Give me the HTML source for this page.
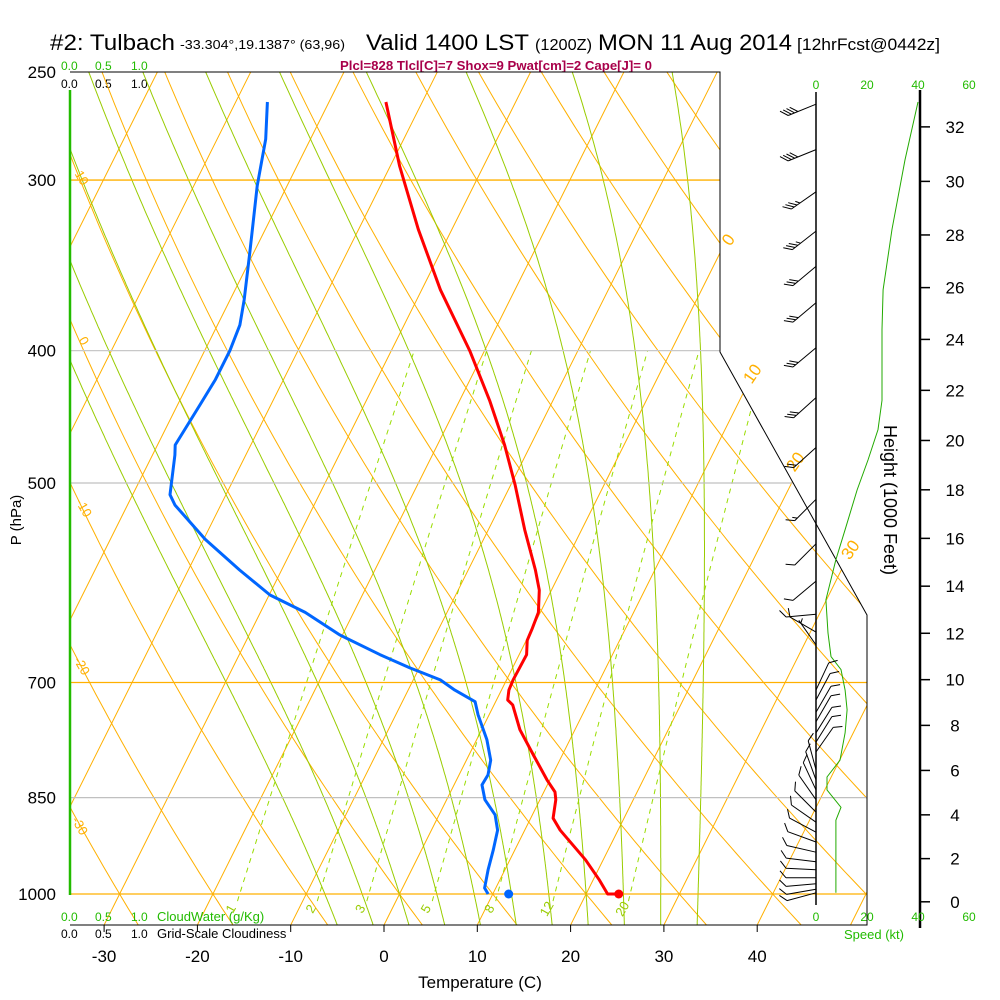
<!DOCTYPE html>
<html><head><meta charset="utf-8"><style>
html,body{margin:0;padding:0;background:#fff;}
svg{display:block;font-family:"Liberation Sans",Arial,sans-serif;}
</style></head><body>
<svg id="chart" width="1000" height="1000" viewBox="0 0 1000 1000" xmlns="http://www.w3.org/2000/svg">
<defs><clipPath id="plotclip"><polygon points="70,72 720,72 720,352 867,615 867,925 70,925"/></clipPath></defs>
<g>
<text x="50" y="50" font-size="22" textLength="125" lengthAdjust="spacingAndGlyphs">#2: Tulbach</text>
<text x="180" y="49" font-size="13" textLength="165" lengthAdjust="spacingAndGlyphs">-33.304°,19.1387° (63,96)</text>
<text x="366" y="50" font-size="22" textLength="163" lengthAdjust="spacingAndGlyphs">Valid 1400 LST</text>
<text x="535" y="50" font-size="16" textLength="57" lengthAdjust="spacingAndGlyphs">(1200Z)</text>
<text x="598" y="50" font-size="22" textLength="194" lengthAdjust="spacingAndGlyphs">MON 11 Aug 2014</text>
<text x="797" y="50" font-size="17" textLength="143" lengthAdjust="spacingAndGlyphs">[12hrFcst@0442z]</text>
</g>
<text x="340" y="70" font-size="13" font-weight="bold" fill="#a8004a" textLength="312" lengthAdjust="spacingAndGlyphs">Plcl=828 Tlcl[C]=7 Shox=9 Pwat[cm]=2 Cape[J]= 0</text>
<g font-size="12">
<text x="61" y="70" fill="#22bb00">0.0</text><text x="95" y="70" fill="#22bb00">0.5</text><text x="131" y="70" fill="#22bb00">1.0</text>
<text x="61" y="88" fill="#000">0.0</text><text x="95" y="88" fill="#000">0.5</text><text x="131" y="88" fill="#000">1.0</text>
</g>
<g font-size="12" fill="#22bb00" text-anchor="middle">
<text x="816" y="89">0</text><text x="867" y="89">20</text><text x="918" y="89">40</text><text x="969" y="89">60</text>
</g>
<g id="plot" clip-path="url(#plotclip)"></g>
<g id="overlay"></g>
<g font-size="12">
<text x="61" y="921" fill="#22bb00">0.0</text><text x="95" y="921" fill="#22bb00">0.5</text><text x="131" y="921" fill="#22bb00">1.0</text>
<text x="157" y="921" fill="#22bb00" font-size="13">CloudWater (g/Kg)</text>
<text x="61" y="938" fill="#000">0.0</text><text x="95" y="938" fill="#000">0.5</text><text x="131" y="938" fill="#000">1.0</text>
<text x="157" y="938" fill="#000" font-size="13">Grid-Scale Cloudiness</text>
</g>
<g font-size="12" fill="#22bb00" text-anchor="middle">
<text x="816" y="921">0</text><text x="867" y="921">20</text><text x="918" y="921">40</text><text x="969" y="921">60</text>
<text x="874" y="939" font-size="13">Speed (kt)</text>
</g>
<text x="480" y="988" font-size="17" text-anchor="middle">Temperature (C)</text>
<text transform="translate(21,520) rotate(-90)" font-size="15" text-anchor="middle">P (hPa)</text>
<text transform="translate(884,500) rotate(90)" font-size="18" text-anchor="middle">Height (1000 Feet)</text>
<script>
const tempTicks = [-30,-20,-10,0,10,20,30,40];
const pressureTicks = [250,300,400,500,700,850,1000];
const heightTicks = [0,2,4,6,8,10,12,14,16,18,20,22,24,26,28,30,32];
const tempP = [263,293,326,361,400,435,469,502,541,579,599,622,639,652,668,697,709,721,727,758,791,825,842,853,880,898,944,977,1000];
const tempC = [-43.9,-39.0,-33.6,-28.0,-21.6,-16.8,-12.8,-9.5,-6.1,-2.8,-1.3,-0.2,0,0.1,0.8,0.7,0.8,1.2,2.0,4.1,6.9,9.7,11.2,11.7,12.4,13.8,18.1,20.7,22.3];
const dewP = [263,280,303,338,367,383,400,420,438,469,477,510,519,550,579,604,622,646,668,683,697,709,723,739,771,798,818,832,853,875,898,929,960,990,1000];
const dewC = [-56.6,-54.8,-53.2,-50.5,-48.5,-47.6,-47.3,-47.3,-47.6,-48.1,-47.6,-46.0,-44.9,-39.8,-34.5,-29.9,-25.2,-20.3,-14.9,-11.0,-7.1,-5.0,-2.2,-1.2,1.1,2.6,3.1,3.0,4.1,6.0,7.1,7.7,8.2,8.8,9.5];
const sfcTemp = [23.5];
const sfcDew = [11.7];
const windP = [264,285,306,327,347,369,398,433,471,514,554,590,624,643,657,709,721,736,748,762,774,787,811,825,839,853,871,886,901,916,932,947,960,973,983,992,998];
const windDir = [248,248,235,232,230,230,230,228,228,225,225,230,265,300,325,25,28,30,30,32,32,35,345,340,335,325,315,305,298,290,283,277,273,270,265,260,255];
const windKt = [40,40,35,35,30,30,30,30,20,15,10,10,10,10,5,10,10,10,10,10,10,10,10,10,10,10,10,10,10,10,10,10,10,10,10,10,10];
const speedP = [263,290,326,361,386,435,457,481,506,541,569,609,644,670,685,709,733,762,798,821,839,864,883,998];
const speedKt = [40,34.9,29.8,26.3,25.9,25.9,24.3,20.4,16.1,11.4,7.8,3.9,4.7,5.9,9.8,11.4,12.2,11.4,9.4,4.3,4.3,9.8,7.8,7.8];
const mixRatios = [1,2,3,5,8,12,20];
const moistStarts = [-8,-4,0,4,8,12,16,20,24,28,32];

const NS='http://www.w3.org/2000/svg';
const plot=document.getElementById('plot');
const over=document.getElementById('overlay');
function Y(p){return 894-593*Math.log(1000/p);}
function X(T,p){return 384+9.33*T+0.5*(925-Y(p));}
function spdX(k){return 816+2.55*k;}
function mk(tag,attrs,parent){const e=document.createElementNS(NS,tag);for(const k in attrs)e.setAttribute(k,attrs[k]);parent.appendChild(e);return e;}
function pathFrom(pts){return pts.map((q,i)=>(i?'L':'M')+q[0].toFixed(1)+','+q[1].toFixed(1)).join('');}
const PB=1054;

for(let T=-130;T<=50;T+=10){
  const e=mk('line',{x1:X(T,PB),y1:Y(PB),x2:X(T,200),y2:Y(200),stroke:'#ffb000','stroke-width':1},plot);
  
  
}
for(let th=-40;th<=200;th+=10){
  const pts=[];
  for(let p=PB;p>=240;p-=10){const T=(th+273.15)*Math.pow(p/1000,0.286)-273.15;pts.push([X(T,p),Y(p)]);}
  const e=mk('path',{d:pathFrom(pts),fill:'none',stroke:'#ffb000','stroke-width':1},plot);
  
  
}
function es(Tc){return 6.112*Math.exp(17.67*Tc/(Tc+243.5));}
function dTdp(T,p){const Tc=T-273.15;const e=es(Tc);const rs=0.622*e/(p-e);
  return (287*T+2.5e6*rs)/(p*(1004+2.5e6*2.5e6*rs*0.622/(287*T*T)));}
for(const T0 of moistStarts){
  const up=[];let T=T0+273.15;
  for(let p=1000;p>=245;p-=2){up.push([X(T-273.15,p),Y(p)]);T-=dTdp(T,p)*2;}
  const dn=[];T=T0+273.15;
  for(let p=1000;p<=PB;p+=2){dn.push([X(T-273.15,p),Y(p)]);T+=dTdp(T,p)*2;}
  const pts=dn.reverse().concat(up);
  const e=mk('path',{d:pathFrom(pts),fill:'none',stroke:'#99cc00','stroke-width':1},plot);
  
  
}
function tdFromW(w,p){const e=w*p/(622+w);const l=Math.log(e/6.112);return 243.5*l/(17.67-l);}
mixRatios.forEach(w=>{
  const pts=[];for(let p=1012;p>=400;p-=4)pts.push([X(tdFromW(w,p),p),Y(p)]);
  const e=mk('path',{d:pathFrom(pts),fill:'none',stroke:'#99dd00','stroke-width':1,'stroke-dasharray':'5,5'},plot);
  
  
  const lx=X(tdFromW(w,1025),1025)-4;
  const t=mk('text',{x:lx,y:913,'font-size':13,fill:'#99cc00','text-anchor':'middle',transform:'rotate(-60 '+lx+' 909)'},over);
  t.textContent=w;
  
  
});
function boundX(y){if(y<=352)return 720;if(y<=615)return 720+(y-352)*147/263;return 867;}
const isoCol={300:'#ffb000',400:'#c8c8c8',500:'#c0c0c0',700:'#ffb000',850:'#c0c0c0',1000:'#ffb000'};
pressureTicks.forEach(p=>{
  const y=Y(p);
  if(p!==250){const e=mk('line',{x1:70,y1:y,x2:boundX(y),y2:y,stroke:isoCol[p],'stroke-width':1.3},over);
  
  }
  const t=mk('text',{x:56,y:y+6,'font-size':17,'text-anchor':'end'},over);
  t.textContent=p;
  
  
});
mk('polyline',{points:'70,72 720,72 720,352 867,615 867,925 70,925',fill:'none',stroke:'#000','stroke-width':1},over);
mk('line',{x1:70,y1:90,x2:70,y2:895,stroke:'#22bb00','stroke-width':2.5},over);
mk('line',{x1:816,y1:92,x2:816,y2:905,stroke:'#000','stroke-width':1.5},over);
tempTicks.forEach(T=>{
  const x=384+9.33*T;
  mk('line',{x1:x,y1:925,x2:x,y2:932,stroke:'#000'},over);
  const t=mk('text',{x:x,y:962,'font-size':17,'text-anchor':'middle'},over);
  t.textContent=T;
  
  
});
mk('line',{x1:920,y1:90,x2:920,y2:928,stroke:'#000','stroke-width':2.5},over);
heightTicks.forEach(h=>{
  const p=1013.25*Math.pow(1-h*1000/145366,5.2559);const y=Y(p);
  mk('line',{x1:920,y1:y,x2:930,y2:y,stroke:'#000','stroke-width':1.5},over);
  const t=mk('text',{x:955,y:y+6,'font-size':17,'text-anchor':'middle'},over);
  t.textContent=h;
  
  
});
[[0,733,243],[10,757,377],[20,800,465],[30,855,553]].forEach(a=>{
  const t=mk('text',{x:a[1],y:a[2],'font-size':17,fill:'#ffb000','text-anchor':'middle',transform:'rotate(-55 '+a[1]+' '+a[2]+')'},over);
  t.textContent=a[0];
  
  
});
[[10,78,180],[0,80,343],[-10,80,510],[-20,78,668],[-30,76,828]].forEach(a=>{
  const t=mk('text',{x:a[1],y:a[2],'font-size':13,fill:'#ffb000','text-anchor':'middle',transform:'rotate(60 '+a[1]+' '+a[2]+')'},over);
  t.textContent=a[0];
  
  
});
{const pts=speedP.map((p,i)=>[spdX(speedKt[i]),Y(p)]);
const e=mk('path',{d:pathFrom(pts),fill:'none',stroke:'#22aa00','stroke-width':1},over);

}
windP.forEach((p,i)=>{
  const y=Y(p),x=816,L=30;const d=windDir[i]*Math.PI/180;
  const ux=Math.sin(d),uy=-Math.cos(d);
  const tx=x+ux*L,ty=y+uy*L;
  let s='M'+x+','+y.toFixed(1)+'L'+tx.toFixed(1)+','+ty.toFixed(1);
  const px=-uy,py=ux;let k=windKt[i];let off=0;
  while(k>=10){const bx=tx-ux*off,by=ty-uy*off;s+='M'+bx.toFixed(1)+','+by.toFixed(1)+'L'+(bx+px*7+ux*6).toFixed(1)+','+(by+py*7+uy*6).toFixed(1);k-=10;off+=3.5;}
  if(k>=5){const bx=tx-ux*(off||3.5),by=ty-uy*(off||3.5);s+='M'+bx.toFixed(1)+','+by.toFixed(1)+'L'+(bx+px*4+ux*3).toFixed(1)+','+(by+py*4+uy*3).toFixed(1);}
  const e=mk('path',{d:s,fill:'none',stroke:'#000','stroke-width':1},over);
  
  
});
{const pts=tempP.map((p,i)=>[X(tempC[i],p),Y(p)]);pts.push([X(sfcTemp[0],1000),Y(1000)]);
const e=mk('path',{d:pathFrom(pts),fill:'none',stroke:'#ff0000','stroke-width':3,'stroke-linejoin':'round'},over);


const c=mk('circle',{cx:X(sfcTemp[0],1000),cy:Y(1000),r:4.5,fill:'#ff0000'},over);

}
{const pts=dewP.map((p,i)=>[X(dewC[i],p),Y(p)]);
const e=mk('path',{d:pathFrom(pts),fill:'none',stroke:'#0066ff','stroke-width':3,'stroke-linejoin':'round'},over);


const c=mk('circle',{cx:X(sfcDew[0],1000),cy:Y(1000),r:4.5,fill:'#0066ff'},over);

}
</script>
</svg>
</body></html>
